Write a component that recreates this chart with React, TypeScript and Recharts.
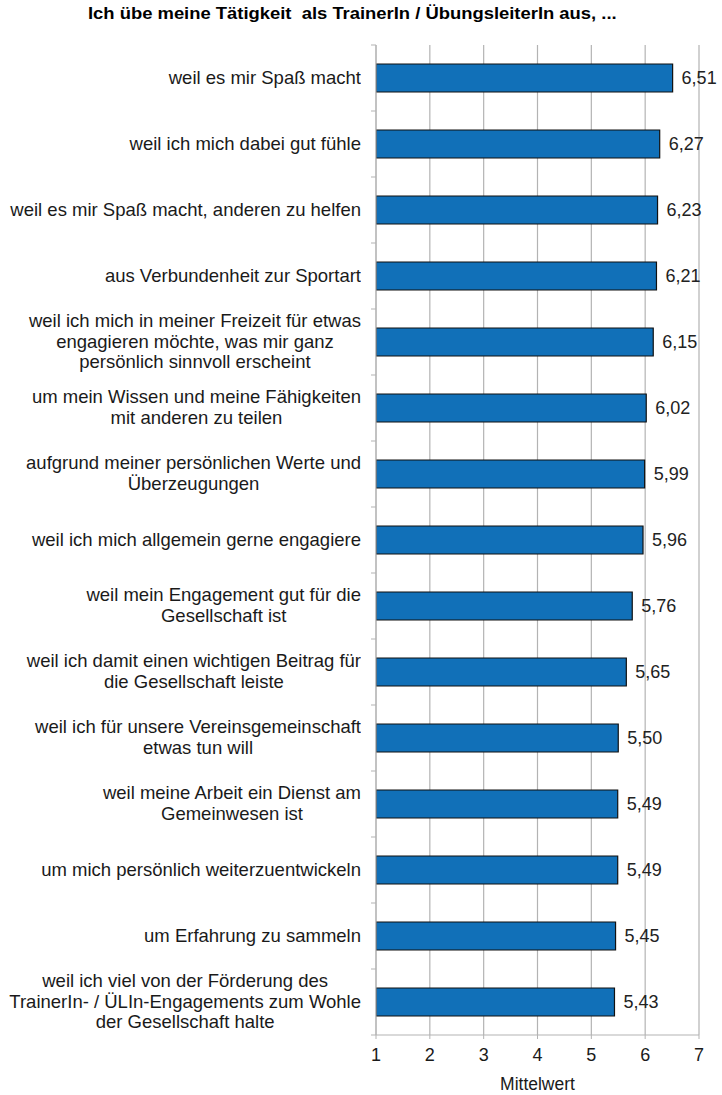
import React from "react";
import {
  BarChart,
  Bar,
  XAxis,
  YAxis,
  CartesianGrid,
  LabelList,
} from "recharts";

const categories: string[] = [
  "weil es mir Spaß macht",
  "weil ich mich dabei gut fühle",
  "weil es mir Spaß macht, anderen zu helfen",
  "aus Verbundenheit zur Sportart",
  "weil ich mich in meiner Freizeit für etwas\nengagieren möchte, was mir ganz\npersönlich sinnvoll erscheint",
  "um mein Wissen und meine Fähigkeiten\nmit anderen zu teilen",
  "aufgrund meiner persönlichen Werte und\nÜberzeugungen",
  "weil ich mich allgemein gerne engagiere",
  "weil mein Engagement gut für die\nGesellschaft ist",
  "weil ich damit einen wichtigen Beitrag für\ndie Gesellschaft leiste",
  "weil ich für unsere Vereinsgemeinschaft\netwas tun will",
  "weil meine Arbeit ein Dienst am\nGemeinwesen ist",
  "um mich persönlich weiterzuentwickeln",
  "um Erfahrung zu sammeln",
  "weil ich viel von der Förderung des\nTrainerIn- / ÜLIn-Engagements zum Wohle\nder Gesellschaft halte",
];

const values: number[] = [
  6.51, 6.27, 6.23, 6.21, 6.15, 6.02, 5.99, 5.96, 5.76, 5.65, 5.5, 5.49, 5.49,
  5.45, 5.43,
];

const xTicks: number[] = [1, 2, 3, 4, 5, 6, 7];

const title = "Ich übe meine Tätigkeit  als TrainerIn / ÜbungsleiterIn aus, ...";
const xAxisTitle = "Mittelwert";

const data = categories.map((c, i) => ({ name: c, value: values[i] }));

const FONT = "'Liberation Sans', Arial, sans-serif";
const GRID = "#b3b3b3";
const TEXT = "#1a1a1a";

const CategoryTick = (props: any) => {
  const { x, y, payload, index } = props;
  const lines: string[] = String(payload.value).split("\n");
  const half = payload.offset ?? 33;
  const lineH = 20.7;
  const boxH = lines.length * lineH + 8;
  const axisX = x;
  return (
    <g>
      <line
        x1={axisX - 5}
        x2={axisX}
        y1={y - half}
        y2={y - half}
        stroke={GRID}
        strokeWidth={1}
      />
      {index === categories.length - 1 && (
        <line
          x1={axisX - 5}
          x2={axisX}
          y1={y + half}
          y2={y + half}
          stroke={GRID}
          strokeWidth={1}
        />
      )}
      <foreignObject x={0} y={y - boxH / 2} width={axisX - 15} height={boxH}>
        <div
          style={{
            width: "100%",
            height: "100%",
            display: "flex",
            alignItems: "center",
            justifyContent: "flex-end",
            fontFamily: FONT,
            fontSize: 18.5,
            lineHeight: `${lineH}px`,
            color: TEXT,
          }}
        >
          <div style={{ textAlign: "center", whiteSpace: "pre" }}>
            {lines.join("\n")}
          </div>
        </div>
      </foreignObject>
    </g>
  );
};

export default function App() {
  return (
    <div
      style={{
        position: "absolute",
        left: 0,
        top: 0,
        width: 722,
        height: 1095,
        background: "#fff",
      }}
    >
      <div
        style={{
          position: "absolute",
          left: 88,
          top: 5,
          fontFamily: FONT,
          fontWeight: "bold",
          fontSize: 16,
          color: "#000",
          whiteSpace: "pre",
          transform: "scaleX(1.15)",
          transformOrigin: "0 0",
        }}
      >
        {title}
      </div>
      <BarChart
        width={722}
        height={1095}
        data={data}
        layout="vertical"
        margin={{ top: 45, right: 23, bottom: 0, left: 0 }}
        barCategoryGap={19}
      >
        <CartesianGrid horizontal={false} stroke={GRID} strokeWidth={1.2} />
        <XAxis
          type="number"
          domain={[1, 7]}
          ticks={xTicks}
          interval={0}
          allowDataOverflow
          stroke={GRID}
          tickSize={4}
          tick={{ fill: TEXT, fontSize: 18, fontFamily: FONT }}
          tickMargin={9}
          height={60}
          label={{
            value: xAxisTitle,
            position: "insideBottom",
            offset: 5,
            fill: TEXT,
            fontSize: 17.5,
            fontFamily: FONT,
          }}
        />
        <YAxis
          type="category"
          dataKey="name"
          width={376}
          interval={0}
          stroke={GRID}
          tickLine={false}
          tickSize={0}
          tickMargin={0}
          tick={<CategoryTick />}
        />
        <Bar
          dataKey="value"
          fill="#1170b8"
          stroke="#111"
          strokeWidth={1.2}
          isAnimationActive={false}
        >
          <LabelList
            dataKey="value"
            position="right"
            offset={9}
            formatter={(v: any) => Number(v).toFixed(2).replace(".", ",")}
            style={{ fill: "#222", fontSize: 18, fontFamily: FONT }}
          />
        </Bar>
      </BarChart>
    </div>
  );
}
